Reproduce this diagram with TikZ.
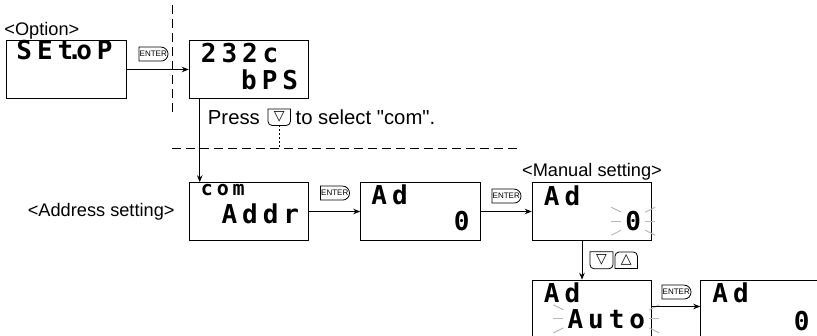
\documentclass[tikz,border=0pt]{standalone}
\usepackage{fontspec}
\setmainfont{Liberation Sans}
\newfontfamily\labelfont{Liberation Sans}
\newfontfamily\lcdfont[LetterSpace=19]{DejaVu Sans Mono}
\newfontfamily\symfont{DejaVu Sans}
\usetikzlibrary{shapes.misc, arrows.meta, positioning, calc}
\tikzset{
  disp/.style={rectangle, draw=black, line width=1pt, minimum width=119.5pt, minimum height=57.5pt, inner sep=0pt},
  lcd/.style={inner sep=0pt, font=\lcdfont\bfseries\fontsize{26}{26}\selectfont},
  lbl/.style={inner sep=0pt, font=\labelfont\fontsize{18.2}{20}\selectfont},
  presslbl/.style={inner sep=0pt, font=\labelfont\fontsize{20.3}{22}\selectfont},
  enterkey/.style={rounded rectangle, rounded rectangle left arc=none, draw=black, line width=0.8pt, minimum width=30pt, minimum height=14pt, inner sep=0.5pt, font=\labelfont\fontsize{8}{8}\selectfont},
  arrowkey/.style={minimum width=22pt, minimum height=16pt, inner sep=0pt, font=\symfont\fontsize{14}{14}\selectfont},
  keyline/.style={line width=0.8pt},
  arrow/.style={-{Stealth[length=7pt, width=5.5pt]}, line width=1pt},
  sep/.style={line width=0.9pt, dash pattern=on 9pt off 5pt},
  ray/.style={gray!55, line width=1pt},
}
\newcommand{\blink}[1]{%
  \foreach \side/\dir in {west/-1,east/1}
    \foreach \yin/\yout in {9/14,0/0,-9/-14}
      \draw[ray] ([shift={(4*\dir,\yin)}]#1.\side) -- ([shift={(14*\dir,\yout)}]#1.\side);
}

\begin{document}
\begin{tikzpicture}[x=1pt, y=1pt, node distance=51pt]
\useasboundingbox (0,0) rectangle (817,336);
% displays
\node[disp] (setop) at (66.5,266.5) {};
\node[disp, right=62pt of setop] (bps) {};
\node[disp, below=83.5pt of bps] (com) {};
\node[disp, right=of com] (adr) {};
\node[disp, right=of adr] (man) {};
\node[disp, below=39pt of man] (auto) {};
\node[disp, right=48pt of auto] (res) {};
% display readings
\node[lcd, anchor=north west] (setopt) at ([shift={(10pt,0pt)}]setop.north west) {SEt\makebox[3pt]{.}oP};
\node[lcd, anchor=north west] (bpst) at ([shift={(12pt,-2.5pt)}]bps.north west) {232c};
\node[lcd, anchor=south east] (bpsb) at ([shift={(-11pt,9pt)}]bps.south east) {bPS};
\node[lcd, font=\lcdfont\bfseries\fontsize{20}{20}\selectfont, anchor=base west] (comt) at ([shift={(12pt,-13pt)}]com.north west) {com};
\node[lcd, anchor=south east] (comb) at ([shift={(-10pt,17pt)}]com.south east) {Addr};
\node[lcd, anchor=north west] (adrt) at ([shift={(11pt,-2.5pt)}]adr.north west) {Ad};
\node[lcd, anchor=south east] (adrb) at ([shift={(-11pt,10pt)}]adr.south east) {0};
\node[lcd, anchor=north west] (mant) at ([shift={(12pt,-3pt)}]man.north west) {Ad};
\node[lcd, anchor=south east] (manb) at ([shift={(-11pt,9.5pt)}]man.south east) {0};
\node[lcd, anchor=north west] (autot) at ([shift={(12pt,-3pt)}]auto.north west) {Ad};
\node[lcd, anchor=south east] (autob) at ([shift={(-7pt,9.5pt)}]auto.south east) {Auto};
\node[lcd, anchor=north west] (rest) at ([shift={(12pt,-3pt)}]res.north west) {Ad};
\node[lcd, anchor=south east] (resb) at ([shift={(-11pt,7.5pt)}]res.south east) {0};
\blink{manb}
\blink{autob}
% labels
\node[lbl, anchor=base west] (optlbl) at ([shift={(-2pt,4.5pt)}]setop.north west) {<Option>};
\node[lbl, left=14pt of com] (adrlbl) {<Address setting>};
\node[lbl, above=2pt of man] (manlbl) {<Manual setting>};
\node[presslbl, anchor=west] (press) at ([shift={(19pt,-18.5pt)}]bps.south west) {Press};
\node[arrowkey, right=8pt of press] (pkey) {▽};
\node[presslbl, right=5pt of pkey] (sel) {to select "com".};
% dashed separators
\coordinate (vtop) at (172,331);
\coordinate (vbot) at (172,223);
\coordinate (hl) at (172,188);
\coordinate (hr) at (520,188);
\draw[sep] (vtop) -- (vbot);
\draw[sep] (hl) -- (hr);
\draw[line width=1.2pt, dash pattern=on 1.3pt off 2.7pt] (pkey.south) -- (pkey.south |- hl);
% flow
\draw[arrow] (setop) -- node[enterkey, above=8pt, xshift=-4.5pt] (k1) {ENTER} (bps);
\draw[arrow] ([xshift=11pt]bps.south west) -- ([xshift=11pt]bps.south west |- com.north);
\draw[arrow] (com) -- node[enterkey, above=11pt] (k2) {ENTER} (adr);
\draw[arrow] (adr) -- node[enterkey, above=8pt] (k3) {ENTER} (man);
\draw[arrow] ([xshift=-10pt]man.south) -- node[arrowkey, right=8pt] (dkey) {▽} ([xshift=-10pt]man.south |- auto.north);
\node[arrowkey, right=2pt of dkey] (ukey) {△};
\draw[arrow] ([yshift=2.5pt]auto.east) -- node[enterkey, above=7pt] (k4) {ENTER} ([yshift=2.5pt]auto.east -| res.west);
% key outlines
\foreach \k in {pkey,dkey}
  \draw[keyline] (\k.north west) -- ([yshift=4pt]\k.south west) arc[start angle=180, end angle=270, radius=4pt] -- ([xshift=-4pt]\k.south east) arc[start angle=270, end angle=360, radius=4pt] -- (\k.north east) -- cycle;
\draw[keyline] (ukey.south west) -- ([yshift=-4pt]ukey.north west) arc[start angle=180, end angle=90, radius=4pt] -- ([xshift=-4pt]ukey.north east) arc[start angle=90, end angle=0, radius=4pt] -- (ukey.south east) -- cycle;
\end{tikzpicture}
\end{document}
